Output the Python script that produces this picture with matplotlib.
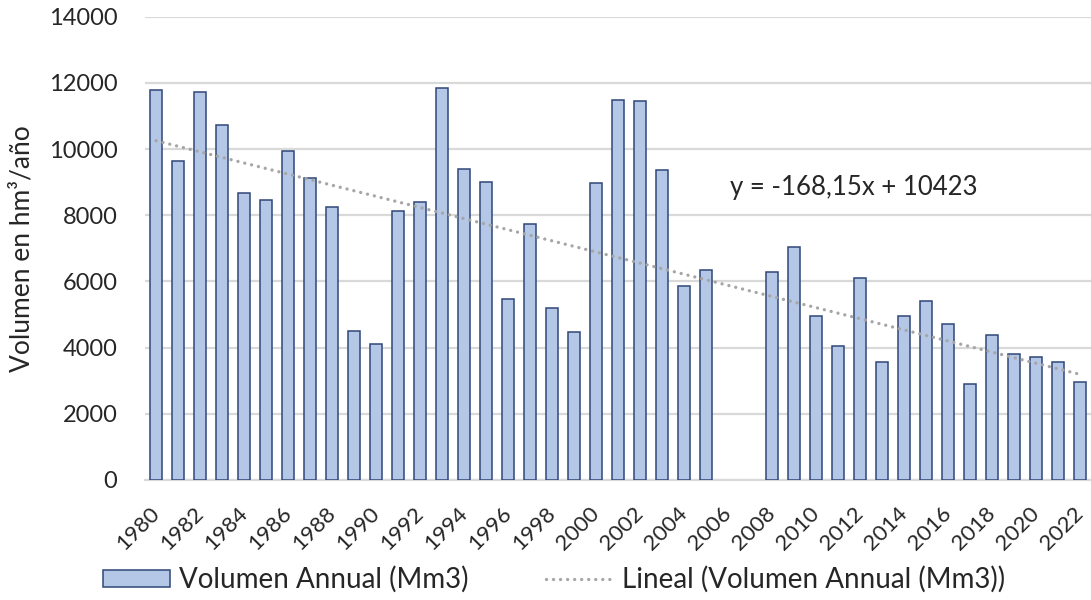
import matplotlib
matplotlib.use("Agg")
import matplotlib.pyplot as plt
import numpy as np

plt.rcParams['font.family'] = ['Lato', 'DejaVu Sans']

# datos (2006 y 2007 sin dato)
years = [1980, 1981, 1982, 1983, 1984, 1985, 1986, 1987, 1988, 1989,
         1990, 1991, 1992, 1993, 1994, 1995, 1996, 1997, 1998, 1999,
         2000, 2001, 2002, 2003, 2004, 2005,
         2008, 2009, 2010, 2011, 2012, 2013, 2014, 2015, 2016, 2017,
         2018, 2019, 2020, 2021, 2022]
volumen = [11780, 9630, 11740, 10720, 8660, 8470, 9950, 9130, 8240, 4490,
           4110, 8120, 8390, 11850, 9400, 9010, 5460, 7730, 5200, 4460,
           8970, 11500, 11460, 9370, 5860, 6340,
           6300, 7050, 4970, 4040, 6110, 3570, 4970, 5410, 4700, 2910,
           4390, 3800, 3720, 3570, 2950]

# tendencia lineal de Excel (x = 1..43)
slope = -168.15
intercept = 10423
first_year = 1980
last_year = 2022

text_color = '#262626'

fig = plt.figure(figsize=(10.91, 6.0), dpi=100)
ax = fig.add_axes([0.133, 0.2, 0.867, 0.772])

bars = ax.bar(years, volumen, width=0.58, color='#b4c7e7', edgecolor='#2f4677',
              linewidth=1.1, zorder=3, label='Volumen Annual (Mm3)')

trend_years = np.arange(first_year, last_year + 1)
trend_x = trend_years - first_year + 1
trend, = ax.plot(trend_years, slope * trend_x + intercept, color='#a6a6a6',
                 linewidth=2.4, linestyle=(0, (0.01, 2.1)), dash_capstyle='round',
                 zorder=4, label='Lineal (Volumen Annual (Mm3))')

ax.set_xlim(first_year - 0.5, last_year + 0.5)
ax.set_ylim(0, 14000)
ax.set_yticks(np.arange(0, 14001, 2000))
ax.tick_params(axis='both', length=0, labelsize=17, colors=text_color)
ax.tick_params(axis='x', pad=21.6, labelsize=16)
ax.tick_params(axis='y', pad=20)
ax.set_xticks(np.arange(first_year, last_year + 1, 2))
ax.set_xticklabels([str(y) for y in range(first_year, last_year + 1, 2)],
                   rotation=45, ha='right', va='center', rotation_mode='anchor',
                   fontsize=16)

ax.grid(axis='y', color='#d9d9d9', linewidth=1.6, zorder=0)
for side in ['top', 'right', 'left']:
    ax.spines[side].set_visible(False)
ax.spines['bottom'].set_color('#d9d9d9')
ax.spines['bottom'].set_linewidth(1.6)

ax.set_ylabel('Volumen en hm³/año', fontsize=19, color=text_color)
ax.yaxis.set_label_coords(-0.117, 0.5)

ax.text(2006.1, 8850, 'y = -168,15x + 10423', fontsize=18.5, color=text_color,
        va='center', ha='left')

fig.legend([bars, trend], ['Volumen Annual (Mm3)', 'Lineal (Volumen Annual (Mm3))'],
           loc='center', bbox_to_anchor=(0.508, 0.034), ncol=2, frameon=False,
           fontsize=20, handlelength=2.4, handleheight=0.55, handletextpad=0.33,
           columnspacing=2.8, labelcolor=text_color)

fig.savefig('out.png', dpi=100)
